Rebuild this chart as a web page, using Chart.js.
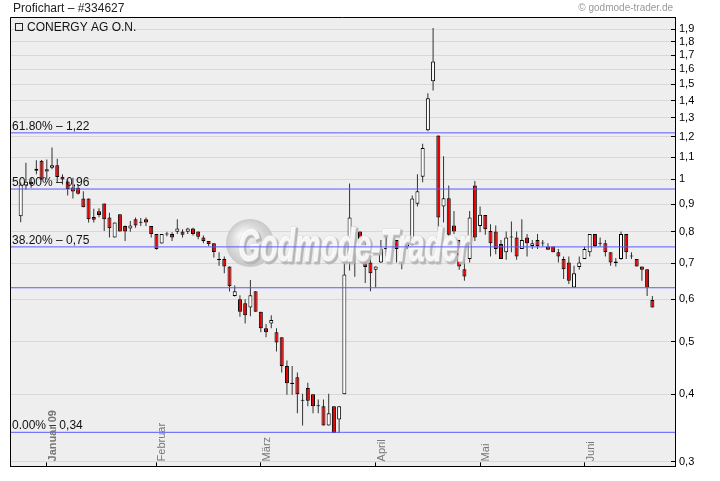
<!DOCTYPE html>
<html>
<head>
<meta charset="utf-8">
<script src="https://cdn.jsdelivr.net/npm/chart.js@4.4.0/dist/chart.umd.min.js"></script>
<style>
  html, body { margin: 0; padding: 0; background: #fff; }
  #wrap { width: 720px; height: 481px; }
</style>
</head>
<body>
<div id="wrap"><canvas id="kurs" width="720" height="481"></canvas></div>
<script>
// Handelstage (Xetra) Dez 2008 - Juni 2009
const tradingDays = [
  ["2008-12", [19, 22, 23, 29, 30]],
  ["2009-01", [2, 5, 6, 7, 8, 9, 12, 13, 14, 15, 16, 19, 20, 21, 22, 23, 26, 27, 28, 29, 30]],
  ["2009-02", [2, 3, 4, 5, 6, 9, 10, 11, 12, 13, 16, 17, 18, 19, 20, 23, 24, 25, 26, 27]],
  ["2009-03", [2, 3, 4, 5, 6, 9, 10, 11, 12, 13, 16, 17, 18, 19, 20, 23, 24, 25, 26, 27, 30, 31]],
  ["2009-04", [1, 2, 3, 6, 7, 8, 9, 14, 15, 16, 17, 20, 21, 22, 23, 24, 27, 28, 29, 30]],
  ["2009-05", [4, 5, 6, 7, 8, 11, 12, 13, 14, 15, 18, 19, 20, 21, 22, 25, 26, 27, 28, 29]],
  ["2009-06", [1, 2, 3, 4, 5, 8, 9, 10, 11, 12, 15, 16, 17, 18]],
];
const monthNames = {
  "2009-01": "Januar 09", "2009-02": "Februar", "2009-03": "März",
  "2009-04": "April", "2009-05": "Mai", "2009-06": "Juni",
};

// Kurse (EUR)
const opens = [
  0.855, 0.975, 0.990, 1.047, 1.083, 1.035, 1.051, 1.062, 1.012, 0.991,
  0.966, 0.965, 0.922, 0.922, 0.852, 0.873, 0.903, 0.850, 0.781, 0.862,
  0.820, 0.811, 0.844, 0.831, 0.844, 0.820, 0.792, 0.761, 0.791, 0.792,
  0.800, 0.801, 0.800, 0.811, 0.801, 0.781, 0.769, 0.762, 0.709, 0.712,
  0.690, 0.608, 0.600, 0.590, 0.579, 0.621, 0.569, 0.530, 0.541, 0.521,
  0.510, 0.451, 0.420, 0.430, 0.390, 0.411, 0.400, 0.381, 0.380, 0.350,
  0.380, 0.359, 0.400, 0.720, 0.801, 0.801, 0.702, 0.702, 0.680, 0.702,
  0.743, 0.781, 0.772, 0.720, 0.751, 0.762, 0.902, 1.012, 1.234, 1.520,
  1.206, 0.891, 0.923, 0.822, 0.772, 0.682, 0.712, 0.975, 0.820, 0.859,
  0.803, 0.801, 0.759, 0.733, 0.781, 0.781, 0.743, 0.781, 0.753, 0.772,
  0.762, 0.751, 0.751, 0.733, 0.712, 0.702, 0.631, 0.688, 0.712, 0.733,
  0.792, 0.760, 0.762, 0.733, 0.700, 0.712, 0.792, 0.721, 0.712, 0.690,
  0.682, 0.598,
];
const highs = [
  0.987, 1.074, 1.005, 1.085, 1.087, 1.089, 1.146, 1.092, 1.022, 1.000,
  1.007, 0.979, 0.951, 0.922, 0.883, 0.884, 0.903, 0.868, 0.832, 0.862,
  0.822, 0.838, 0.850, 0.848, 0.850, 0.820, 0.792, 0.792, 0.800, 0.798,
  0.844, 0.809, 0.814, 0.814, 0.801, 0.787, 0.769, 0.762, 0.733, 0.720,
  0.690, 0.636, 0.610, 0.600, 0.651, 0.621, 0.569, 0.540, 0.560, 0.530,
  0.510, 0.462, 0.451, 0.439, 0.401, 0.420, 0.400, 0.391, 0.391, 0.401,
  0.380, 0.380, 0.703, 0.983, 0.820, 0.801, 0.762, 0.712, 0.690, 0.772,
  0.811, 0.801, 0.772, 0.762, 0.772, 0.934, 1.022, 1.164, 1.444, 1.909,
  1.206, 1.104, 0.975, 0.874, 0.772, 0.712, 0.874, 0.993, 0.891, 0.859,
  0.826, 0.822, 0.772, 0.801, 0.836, 0.801, 0.844, 0.792, 0.772, 0.792,
  0.772, 0.762, 0.751, 0.743, 0.720, 0.720, 0.692, 0.720, 0.751, 0.792,
  0.792, 0.781, 0.772, 0.733, 0.715, 0.801, 0.792, 0.733, 0.712, 0.690,
  0.682, 0.608,
];
const lows = [
  0.833, 0.958, 0.965, 1.022, 0.997, 1.000, 1.044, 0.987, 0.979, 0.934,
  0.922, 0.938, 0.888, 0.832, 0.832, 0.851, 0.803, 0.781, 0.781, 0.801,
  0.769, 0.800, 0.814, 0.820, 0.820, 0.781, 0.741, 0.761, 0.785, 0.769,
  0.792, 0.781, 0.792, 0.787, 0.775, 0.762, 0.753, 0.717, 0.692, 0.670,
  0.620, 0.607, 0.557, 0.541, 0.558, 0.569, 0.521, 0.510, 0.530, 0.480,
  0.439, 0.399, 0.399, 0.369, 0.350, 0.380, 0.369, 0.369, 0.350, 0.350,
  0.339, 0.339, 0.400, 0.678, 0.660, 0.712, 0.643, 0.621, 0.631, 0.700,
  0.720, 0.741, 0.702, 0.682, 0.743, 0.751, 0.891, 0.988, 1.229, 1.462,
  0.801, 0.832, 0.769, 0.792, 0.680, 0.649, 0.702, 0.769, 0.798, 0.790,
  0.720, 0.727, 0.712, 0.710, 0.733, 0.710, 0.743, 0.720, 0.743, 0.743,
  0.751, 0.741, 0.733, 0.702, 0.654, 0.640, 0.631, 0.680, 0.712, 0.720,
  0.750, 0.751, 0.720, 0.692, 0.690, 0.710, 0.712, 0.712, 0.690, 0.649,
  0.608, 0.579,
];
const closes = [
  0.979, 0.990, 0.980, 1.038, 1.003, 1.044, 1.062, 1.011, 1.000, 0.960,
  0.950, 0.941, 0.888, 0.844, 0.842, 0.859, 0.844, 0.812, 0.832, 0.801,
  0.801, 0.822, 0.822, 0.833, 0.832, 0.792, 0.743, 0.792, 0.793, 0.781,
  0.811, 0.790, 0.811, 0.792, 0.783, 0.769, 0.759, 0.734, 0.711, 0.690,
  0.634, 0.621, 0.569, 0.560, 0.610, 0.569, 0.530, 0.521, 0.549, 0.499,
  0.451, 0.419, 0.418, 0.400, 0.389, 0.389, 0.380, 0.380, 0.350, 0.369,
  0.339, 0.380, 0.667, 0.850, 0.790, 0.753, 0.688, 0.670, 0.690, 0.743,
  0.746, 0.762, 0.743, 0.733, 0.762, 0.922, 0.951, 1.144, 1.414, 1.655,
  0.850, 0.923, 0.790, 0.801, 0.690, 0.661, 0.850, 0.781, 0.860, 0.809,
  0.762, 0.743, 0.712, 0.781, 0.782, 0.720, 0.772, 0.762, 0.762, 0.753,
  0.761, 0.741, 0.733, 0.720, 0.682, 0.649, 0.670, 0.702, 0.743, 0.792,
  0.753, 0.762, 0.733, 0.702, 0.705, 0.792, 0.733, 0.720, 0.690, 0.680,
  0.631, 0.579,
];

const yTicks = [0.3, 0.4, 0.5, 0.6, 0.7, 0.8, 0.9, 1.0, 1.1, 1.2, 1.3, 1.4, 1.5, 1.6, 1.7, 1.8, 1.9];

// Fibonacci-Retracements + Unterstuetzung
const fibPct = ["61.80%", "50.00%", "38.20%", "0.00%"];
const fibValue = [1.22, 0.96, 0.75, 0.34];
const supportLines = [0.63];

// Datum-Labels zusammenbauen
const dates = [];
tradingDays.forEach(([m, days]) => {
  days.forEach((d) => dates.push(m + "-" + String(d).padStart(2, "0")));
});
const monthStarts = [];
dates.forEach((d, i) => {
  const m = d.slice(0, 7);
  if (monthNames[m] && (i === 0 || dates[i - 1].slice(0, 7) !== m)) {
    monthStarts.push({ idx: i, label: monthNames[m] });
  }
});

const X_MIN = -2.05;
const X_MAX = 125.34;

const wicks = dates.map((d, i) => ({ x: i, y: [lows[i], highs[i]] }));
const bodies = dates.map((d, i) => ({ x: i, y: [opens[i], closes[i]] }));
const bodyColors = dates.map((d, i) => (closes[i] >= opens[i] ? "#ffffff" : "#e80000"));

// horizontale Linien als Line-Datasets
const levelSets = fibValue.concat(supportLines).map((v) => ({
  type: "line",
  label: "Level " + v,
  data: [{ x: X_MIN, y: v }, { x: X_MAX, y: v }],
  borderColor: "#5a5aff",
  borderWidth: 1,
  pointRadius: 0,
  fill: false,
  order: -1,
}));

const FONT = "Liberation Sans, Arial, sans-serif";

function drawWatermark(ctx) {
  ctx.save();
  ctx.globalAlpha = 0.85;
  const cx = 250, cy = 243;
  const g = ctx.createRadialGradient(cx - 8, cy - 8, 2, cx, cy, 25);
  g.addColorStop(0, "#f8f8f8");
  g.addColorStop(0.7, "#d0d0d0");
  g.addColorStop(1, "#c0c0c0");
  ctx.fillStyle = g;
  ctx.beginPath();
  ctx.arc(cx, cy, 24, 0, Math.PI * 2);
  ctx.fill();
  ctx.translate(238, 261);
  ctx.scale(0.62, 1);
  ctx.font = "italic bold 46px " + FONT;
  ctx.lineJoin = "round";
  ctx.lineWidth = 3;
  ctx.strokeStyle = "#b4b4b4";
  ctx.strokeText("Godmode-Trader", 3, 2);
  ctx.fillStyle = "#b4b4b4";
  ctx.fillText("Godmode-Trader", 3, 2);
  ctx.strokeStyle = "#e2e2e2";
  ctx.lineWidth = 2;
  ctx.strokeText("Godmode-Trader", 0, 0);
  ctx.fillStyle = "#ffffff";
  ctx.fillText("Godmode-Trader", 0, 0);
  ctx.restore();
}

const decor = {
  id: "decor",
  beforeDraw(chart) {
    const { ctx, chartArea: a } = chart;
    ctx.save();
    ctx.fillStyle = "#ffffff";
    ctx.fillRect(0, 0, chart.width, chart.height);
    ctx.fillStyle = "#eeeeee";
    ctx.fillRect(a.left, a.top, a.right - a.left, a.bottom - a.top);
    ctx.restore();
  },
  afterDatasetDraw(chart, args) {
    // Wasserzeichen ueber den Kerzen, unter den Linien
    if (args.index === 0) drawWatermark(chart.ctx);
  },
  afterDatasetsDraw(chart) {
    const { ctx, chartArea: a, scales } = chart;
    const y = scales.y;
    const x = scales.x;
    ctx.save();
    ctx.fillStyle = "#111";
    ctx.font = "12px " + FONT;
    ctx.textAlign = "left";
    ctx.textBaseline = "alphabetic";
    fibValue.forEach((v, i) => {
      const py = y.getPixelForValue(v);
      ctx.fillText(fibPct[i] + " \u2013 " + v.toFixed(2).replace(".", ","), a.left + 2, py - 3);
    });

    // Monatsnamen
    ctx.fillStyle = "#777";
    ctx.textBaseline = "middle";
    monthStarts.forEach((m, i) => {
      const px = x.getPixelForValue(m.idx) + 6;
      ctx.save();
      ctx.translate(px, a.bottom - 5);
      ctx.rotate(-Math.PI / 2);
      ctx.font = (i === 0 ? "bold " : "") + "11px Liberation Sans Narrow, " + FONT;
      ctx.fillText(m.label, 0, 0);
      ctx.restore();
    });
    ctx.restore();
  },
  afterDraw(chart) {
    const { ctx, chartArea: a } = chart;
    ctx.save();
    // Rahmen oben/links
    ctx.strokeStyle = "#000";
    ctx.lineWidth = 1;
    ctx.beginPath();
    ctx.moveTo(a.left + 0.5, a.bottom);
    ctx.lineTo(a.left + 0.5, a.top + 0.5);
    ctx.lineTo(a.right, a.top + 0.5);
    ctx.stroke();

    ctx.fillStyle = "#222";
    ctx.font = "12px " + FONT;
    ctx.textBaseline = "alphabetic";
    ctx.fillText("Profichart \u2013 #334627", 13, 12);

    ctx.fillStyle = "#999";
    ctx.font = "10px " + FONT;
    ctx.textAlign = "right";
    ctx.fillText("\u00a9 godmode-trader.de", 673, 11);

    // Legende
    ctx.textAlign = "left";
    ctx.strokeStyle = "#222";
    ctx.strokeRect(15.5, 23.5, 7, 7);
    ctx.fillStyle = "#111";
    ctx.font = "12px " + FONT;
    ctx.fillText("CONERGY AG O.N.", 27, 31);
    ctx.restore();
  },
};

new Chart(document.getElementById("kurs").getContext("2d"), {
  type: "bar",
  data: {
    datasets: [
      {
        label: "Koerper",
        data: bodies,
        backgroundColor: bodyColors,
        borderColor: "#000",
        borderWidth: 1,
        borderSkipped: false,
        barThickness: 4,
        minBarLength: 1,
        inflateAmount: 0,
        grouped: false,
        order: 0,
      },
      {
        label: "Docht",
        data: wicks,
        backgroundColor: "#333",
        borderWidth: 0,
        barThickness: 1,
        inflateAmount: 0,
        grouped: false,
        order: 1,
      },
    ].concat(levelSets),
  },
  options: {
    responsive: false,
    devicePixelRatio: 1,
    animation: false,
    layout: { padding: { left: 10, top: 17, right: 0, bottom: 0 } },
    plugins: { legend: { display: false }, tooltip: { enabled: false } },
    scales: {
      x: {
        type: "linear",
        min: X_MIN,
        max: X_MAX,
        offset: false,
        afterBuildTicks: (s) => { s.ticks = monthStarts.map((m) => ({ value: m.idx })); },
        afterFit: (s) => { s.height = 13; },
        ticks: { display: false },
        grid: { offset: false, drawOnChartArea: false, drawTicks: true, tickLength: -4, tickColor: "#000" },
        border: { display: true, color: "#000" },
      },
      y: {
        type: "logarithmic",
        position: "right",
        min: 0.294,
        max: 2.0,
        afterBuildTicks: (s) => { s.ticks = yTicks.map((v) => ({ value: v })); },
        afterFit: (s) => { s.width = 45; },
        ticks: {
          color: "#000",
          padding: 8,
          font: { family: FONT, size: 11 },
          callback: (v) => String(Math.round(v * 10) / 10).replace(".", ","),
        },
        grid: { color: "#d8d8d8", tickColor: "#000", tickLength: -4 },
        border: { display: true, color: "#000" },
      },
    },
  },
  plugins: [decor],
});
</script>
</body>
</html>
